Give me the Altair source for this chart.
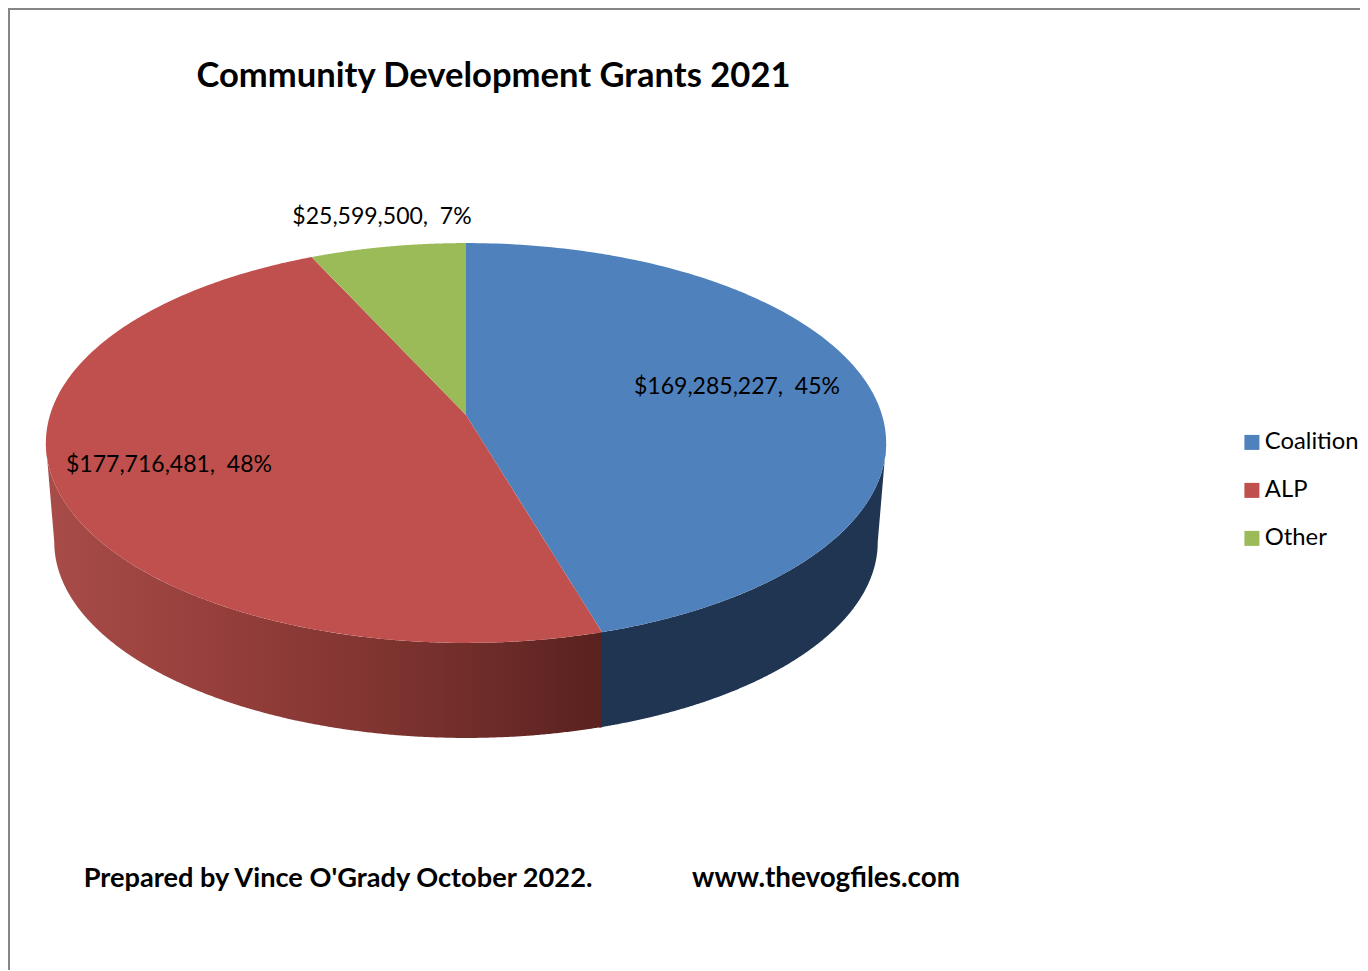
import altair as alt
import numpy as np
import pandas as pd

# ---- values ----
parties = ["Coalition", "ALP", "Other"]
amounts = [169285227, 177716481, 25599500]
colors = ["#4f81bd", "#c0504d", "#9bbb59"]
title_text = "Community Development Grants 2021"
footer_left = "Prepared by Vince O'Grady October 2022."
footer_right = "www.thevogfiles.com"

# ---- layout (screen pixels, the scales below map them 1:1) ----
W, H = 1352, 962
APEX_X, APEX_Y = 466.0, 415.0
PERSP_K, RX, RY = 0.14, 416.0, 196.0
BASE_SHRINK, BASE_SHIFT = 0.98, 99.6
label_xy = [(737, 386), (169, 464), (382, 216)]

total = sum(amounts)
fractions = [a / total for a in amounts]
cum = np.concatenate([[0], np.cumsum(fractions)]) * 2 * np.pi


def rim(t, base=False):
    """Perspective view of a circle: t is the clockwise angle from the top."""
    u, v = np.sin(t), np.cos(t)
    d = 1 + PERSP_K * v
    dx, dy = RX * u / d, RY * v / d
    if base:
        return APEX_X + BASE_SHRINK * dx, APEX_Y - BASE_SHRINK * dy + BASE_SHIFT
    return APEX_X + dx, APEX_Y - dy


def convex_rows(px, py):
    pts = list(zip(px, py))
    rows = []
    for x in np.unique(np.round(px, 2)):
        ys = []
        for (x0, y0), (x1, y1) in zip(pts, pts[1:] + pts[:1]):
            lo, hi = min(x0, x1) - 0.006, max(x0, x1) + 0.006
            if lo <= x <= hi:
                if abs(x1 - x0) < 1e-6:
                    ys += [y0, y1]
                else:
                    s = min(1, max(0, (x - x0) / (x1 - x0)))
                    ys.append(y0 + s * (y1 - y0))
        rows.append((float(x), float(min(ys)), float(max(ys))))
    return rows


def sector_frame(i):
    t = np.linspace(cum[i], cum[i + 1], 170)
    x, y = rim(t)
    rows = convex_rows(np.r_[APEX_X, x], np.r_[APEX_Y, y])
    df = pd.DataFrame(rows, columns=["x", "y", "y2"])
    df["party"] = parties[i]
    return df


def wall_frame(t0, t1):
    t = np.linspace(t0, t1, 220)
    tx, ty = rim(t)
    bx, by = rim(t, base=True)
    # the silhouette joins the widest point of the top to the widest of the base
    lowx = np.r_[tx[0], bx] if abs(t0 - T_RIGHT) < 1e-9 else np.r_[bx, tx[-1]]
    lowy = np.r_[ty[0], by] if abs(t0 - T_RIGHT) < 1e-9 else np.r_[by, ty[-1]]
    o, ol = np.argsort(tx), np.argsort(lowx)
    xs = np.unique(np.r_[tx, lowx])
    return pd.DataFrame({
        "x": xs,
        "y": np.interp(xs, tx[o], ty[o]),
        "y2": np.interp(xs, lowx[ol], lowy[ol]),
    })


T_RIGHT = np.arccos(-PERSP_K)
T_LEFT = 2 * np.pi - T_RIGHT

x_enc = alt.X("x:Q", axis=None, scale=alt.Scale(domain=[8, 8 + W], range=[0, W], nice=False, zero=False))
y_enc = alt.Y("y:Q", axis=None, stack=None, scale=alt.Scale(domain=[8, 8 + H], range=[0, H], nice=False, zero=False))

red_gradient = alt.Gradient(
    gradient="linear", x1=0, x2=1, y1=0, y2=0,
    stops=[
        alt.GradientStop(offset=0, color="#a84c48"),
        alt.GradientStop(offset=0.3, color="#963f3c"),
        alt.GradientStop(offset=0.55, color="#843632"),
        alt.GradientStop(offset=0.8, color="#6d2c29"),
        alt.GradientStop(offset=1, color="#59211f"),
    ],
)

blue_wall = alt.Chart(wall_frame(T_RIGHT, cum[1])).mark_area(color="#1f3552", opacity=1, line=False).encode(
    x=x_enc, y=y_enc, y2="y2:Q")
red_wall = alt.Chart(wall_frame(cum[1], T_LEFT)).mark_area(color=red_gradient, opacity=1, line=False).encode(
    x=x_enc, y=y_enc, y2="y2:Q")

sectors = alt.Chart(pd.concat([sector_frame(i) for i in range(3)], ignore_index=True)).mark_area(
    opacity=1, line=False
).encode(
    x=x_enc, y=y_enc, y2="y2:Q",
    color=alt.Color(
        "party:N",
        scale=alt.Scale(domain=parties, range=colors),
        legend=alt.Legend(
            title=None, orient="none", legendX=1232, legendY=422.5,
            symbolType="square", symbolSize=225, symbolStrokeWidth=0, symbolOpacity=1,
            labelFont="Lato", labelFontSize=23.8, labelColor="#000000", labelLimit=200,
            labelOffset=1, rowPadding=23,
        ),
    ),
)

labels_df = pd.DataFrame({
    "x": [p[0] for p in label_xy],
    "y": [p[1] for p in label_xy],
    "text": [f"${a:,},\u00a0 {round(f * 100)}%" for a, f in zip(amounts, fractions)],
})
labels = alt.Chart(labels_df).mark_text(font="Lato", fontSize=23, color="#000000", align="center", baseline="middle", dy=1).encode(
    x=x_enc, y=y_enc, text="text:N")

texts_df = pd.DataFrame({
    "x": [493.5, 338, 826],
    "y": [76.5, 879, 879],
    "size": [34.6, 27.2, 27.8],
    "text": [title_text, footer_left, footer_right],
})
texts = alt.Chart(texts_df).mark_text(font="Lato", fontWeight="bold", color="#000000", align="center", baseline="middle").encode(
    x=x_enc, y=y_enc, text="text:N",
    size=alt.Size("size:Q", legend=None, scale=None),
)

frame_left = alt.Chart(labels_df).mark_rule(color="#868686", strokeWidth=2).encode(
    x=alt.value(1), y=alt.value(0), y2=alt.value(H))
frame_top = alt.Chart(labels_df).mark_rule(color="#868686", strokeWidth=2).encode(
    y=alt.value(1), x=alt.value(0), x2=alt.value(W))

chart = alt.layer(frame_left, frame_top, blue_wall, red_wall, sectors, labels, texts).properties(
    width=W, height=H, padding=0, autosize=alt.AutoSizeParams(type="none"),
    background="#ffffff",
).configure_view(stroke=None)

chart.save("out.html", embed_options={"renderer": "svg", "actions": False})
